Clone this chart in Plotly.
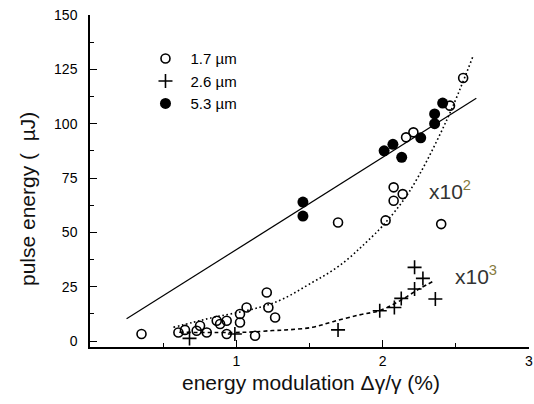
import plotly.graph_objects as go

# --- data ---
# 1.7 um (open circles)
x17 = [0.352, 0.604, 0.649, 0.729, 0.752, 0.798, 0.866, 0.889, 0.934, 0.934, 1.025, 1.025,
       1.07, 1.128, 1.208, 1.219, 1.265,
       1.695, 2.02, 2.075, 2.075, 2.137, 2.40,
       2.16, 2.21, 2.46, 2.55]
y17 = [3.2, 3.9, 5.1, 4.7, 7.0, 3.9, 9.3, 7.8, 9.3, 3.2, 8.5, 12.4,
       15.4, 2.4, 22.3, 15.4, 10.8,
       54.5, 55.5, 70.7, 64.5, 67.6, 53.8,
       93.7, 96.0, 108.3, 121.0]

# 2.6 um (crosses)
x26 = [0.68, 0.99, 1.695, 1.98, 2.08, 2.127, 2.218, 2.218, 2.275, 2.36]
y26 = [1.2, 3.2, 5.1, 13.9, 15.4, 19.6, 23.9, 33.9, 28.8, 19.3]

# 5.3 um (filled circles)
x53 = [1.455, 1.455, 2.01, 2.07, 2.13, 2.26, 2.355, 2.355, 2.41]
y53 = [63.9, 57.5, 87.5, 90.5, 84.5, 93.5, 104.5, 100.0, 109.5]

# fit curves
fit53_x = [0.25, 2.64]
fit53_y = [10.2, 111.7]

fit17_x = [0.57, 0.705, 0.82, 1.16, 1.32, 1.52, 1.64, 1.75, 1.84, 1.90, 2.0, 2.18, 2.43, 2.62]
fit17_y = [6.3, 8.6, 10.5, 15.5, 19.4, 27.0, 31.7, 37.0, 42.4, 46.2, 53.0, 68.5, 100.5, 131.5]

fit26_x = [0.61, 1.05, 1.25, 1.365, 1.52, 1.66, 1.84, 1.98, 2.12, 2.25, 2.355]
fit26_y = [4.0, 4.0, 4.8, 5.2, 6.3, 8.9, 12.0, 14.0, 18.6, 24.0, 27.8]

legend_names = ["1.7 µm", "2.6 µm", "5.3 µm"]
x_ticks = [1, 2, 3]
y_ticks = [0, 25, 50, 75, 100, 125, 150]

FONT = "Liberation Sans, Arial, sans-serif"

fig = go.Figure()

# fit lines
fig.add_trace(go.Scatter(x=fit53_x, y=fit53_y, mode="lines", showlegend=False,
                         line=dict(color="black", width=1.2)))
fig.add_trace(go.Scatter(x=fit17_x, y=fit17_y, mode="lines", showlegend=False,
                         line=dict(color="black", width=1.6, dash="1.6px,2.6px", shape="spline")))
fig.add_trace(go.Scatter(x=fit26_x, y=fit26_y, mode="lines", showlegend=False,
                         line=dict(color="black", width=1.6, dash="4px,3px", shape="spline")))

# data
fig.add_trace(go.Scatter(x=x17, y=y17, mode="markers", name=legend_names[0],
                         marker=dict(symbol="circle-open", size=9, color="black",
                                     line=dict(width=1.6, color="black"))))
fig.add_trace(go.Scatter(x=x26, y=y26, mode="markers", name=legend_names[1],
                         marker=dict(symbol="cross-thin-open", size=10, color="black",
                                     line=dict(width=1.6, color="black"))))
fig.add_trace(go.Scatter(x=x53, y=y53, mode="markers", name=legend_names[2],
                         marker=dict(symbol="circle", size=11, color="black")))

fig.update_layout(
    width=534, height=404,
    margin=dict(l=90, r=5, t=15, b=57),
    paper_bgcolor="white", plot_bgcolor="white",
    font=dict(family=FONT, color="black", size=13),
    legend=dict(x=0.115, y=0.918, xanchor="left", yanchor="top",
                bgcolor="rgba(0,0,0,0)", font=dict(size=15, family=FONT),
                itemwidth=40, tracegroupgap=0),
    xaxis=dict(range=[0, 3], tickvals=x_ticks, ticks="inside", ticklen=7, tickwidth=1.3,
               tickcolor="black", showline=True, linecolor="black", linewidth=1.5,
               showgrid=False, zeroline=False, tickfont=dict(size=14), automargin=False,
               minor=dict(tickvals=[0.5, 1.5, 2.5], ticks="inside", ticklen=4,
                          tickwidth=1.3, tickcolor="black")),
    yaxis=dict(range=[-2.76, 150], tickvals=y_ticks, ticks="inside", ticklen=7, tickwidth=1.3,
               tickcolor="black", showline=True, linecolor="black", linewidth=1.5,
               showgrid=False, zeroline=False, tickfont=dict(size=14), automargin=False,
               ticklabelstandoff=8,
               minor=dict(tickvals=[12.5, 37.5, 62.5, 87.5, 112.5, 137.5], ticks="inside",
                          ticklen=4, tickwidth=1.3, tickcolor="black")),
)

# axis titles as annotations
fig.add_annotation(text="pulse energy (  µJ)", xref="paper", yref="paper",
                   x=-0.141, y=0.446, textangle=-90, showarrow=False,
                   xanchor="center", yanchor="middle",
                   font=dict(size=21, family=FONT, color="#111"))
fig.add_annotation(text="energy modulation Δγ/γ (%)", xref="paper", yref="paper",
                   x=0.503, y=-0.108, showarrow=False, xanchor="center", yanchor="middle",
                   font=dict(size=21, family=FONT, color="#111"))

# multiplier labels
fig.add_annotation(text="x10<sup><span style='color:#857a3c'>2</span></sup>", x=2.30, y=69.5,
                   showarrow=False, xanchor="left", yanchor="middle",
                   font=dict(size=21, family=FONT, color="#333"))
fig.add_annotation(text="x10<sup><span style='color:#857a3c'>3</span></sup>", x=2.48, y=30.6,
                   showarrow=False, xanchor="left", yanchor="middle",
                   font=dict(size=21, family=FONT, color="#333"))

fig.write_html("out.html")
